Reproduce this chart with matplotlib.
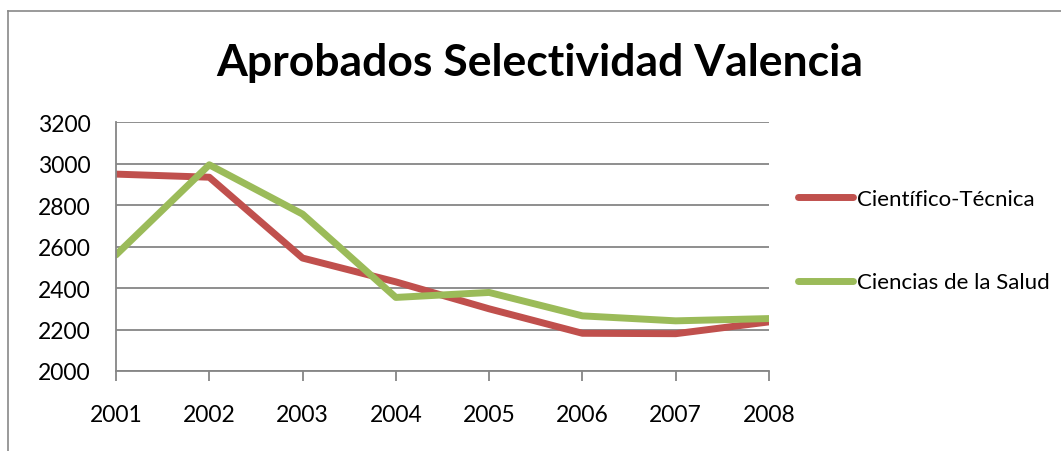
import matplotlib
matplotlib.use('Agg')
import matplotlib.pyplot as plt
from matplotlib.lines import Line2D

plt.rcParams['font.family'] = ['Lato', 'DejaVu Sans']

years = ['2001', '2002', '2003', '2004', '2005', '2006', '2007', '2008']
cientifico = [2950, 2935, 2545, 2430, 2300, 2182, 2180, 2237]
salud = [2560, 2995, 2757, 2355, 2379, 2266, 2242, 2253]
yticks = [2000, 2200, 2400, 2600, 2800, 3000, 3200]

fig = plt.figure(figsize=(10.61, 4.52), dpi=100)
ax = fig.add_axes([0.1093, 0.177, 0.6155, 0.5502])

x = range(len(years))
ax.plot(x, cientifico, color='#C0504D', lw=5, solid_capstyle='round', solid_joinstyle='round', label='Científico-Técnica')
ax.plot(x, salud, color='#9BBB59', lw=5, solid_capstyle='round', solid_joinstyle='round', label='Ciencias de la Salud')

ax.set_xlim(0, len(years) - 1)
ax.set_ylim(2000, 3200)
ax.set_xticks(list(x))
ax.set_xticklabels(years)
ax.set_yticks(yticks)
ax.grid(axis='y', color='#868686', lw=1.3)
ax.set_axisbelow(True)

for s in ['top', 'right']:
    ax.spines[s].set_visible(False)
for s in ['left', 'bottom']:
    ax.spines[s].set_color('#868686')
    ax.spines[s].set_linewidth(1.3)
ax.tick_params(axis='x', length=7, width=1.3, color='#868686', labelsize=16.5, pad=17)
ax.tick_params(axis='y', length=0, labelsize=16.5, pad=18.5)

fig.legend(loc='center left', bbox_to_anchor=(0.733, 0.465), frameon=False, fontsize=16,
           handlelength=2.5, handletextpad=0.15, labelspacing=2.85)

fig.text(0.509, 0.86, 'Aprobados Selectividad Valencia', ha='center', va='center',
         fontsize=32, fontweight='bold')

# outer chart border (top and left visible)
fig.add_artist(Line2D([0.0075, 1.0], [0.9745, 0.9745], transform=fig.transFigure, color='#898989', lw=1.2))
fig.add_artist(Line2D([0.0075, 0.0075], [0.0, 0.9745], transform=fig.transFigure, color='#898989', lw=1.2))

plt.savefig('out.png', dpi=100)
